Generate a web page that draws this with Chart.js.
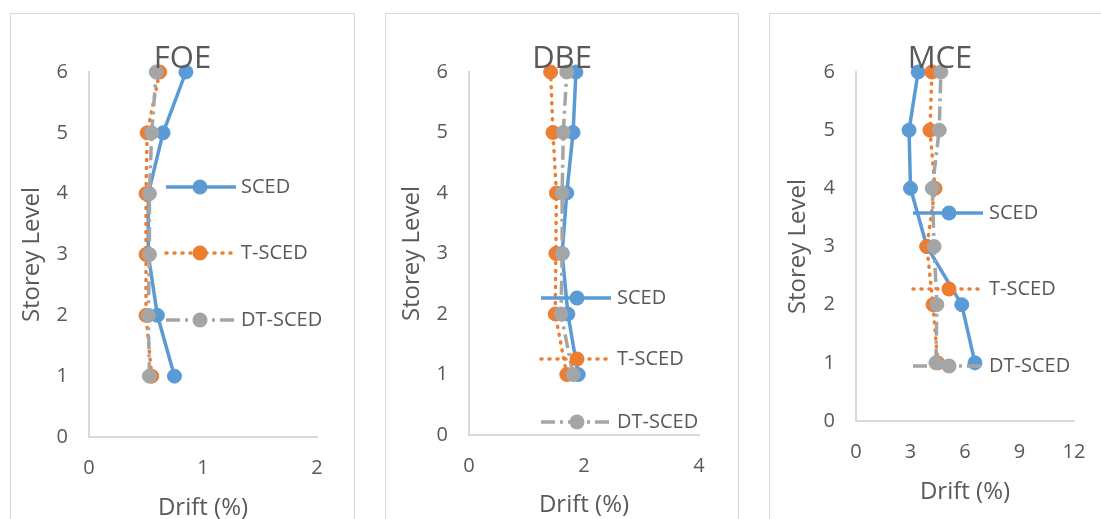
<!DOCTYPE html>
<html>
<head>
<meta charset="utf-8">
<script src="https://cdn.jsdelivr.net/npm/chart.js@4/dist/chart.umd.min.js"></script>
<style>
  html, body { margin: 0; padding: 0; background: #fff; overflow: hidden; width: 1101px; height: 519px; }
  .box { position: absolute; border: 1px solid #d9d9d9; border-bottom: none; box-sizing: border-box; height: 600px; }
  canvas { position: absolute; }
</style>
</head>
<body>
<script>
// storey drift profiles
const storeys = [1, 2, 3, 4, 5, 6];
const seriesNames = ["SCED", "T-SCED", "DT-SCED"];

const foeSced = [0.75, 0.60, 0.52, 0.52, 0.65, 0.85];
const foeTSced = [0.55, 0.50, 0.50, 0.50, 0.51, 0.62];
const foeDTSced = [0.53, 0.52, 0.53, 0.53, 0.55, 0.59];

const dbeSced = [1.90, 1.72, 1.62, 1.70, 1.81, 1.86];
const dbeTSced = [1.70, 1.50, 1.51, 1.52, 1.46, 1.42];
const dbeDTSced = [1.81, 1.60, 1.62, 1.62, 1.64, 1.70];

const mceSced = [6.55, 5.82, 3.90, 3.00, 2.92, 3.42];
const mceTSced = [4.50, 4.24, 3.90, 4.35, 4.07, 4.18];
const mceDTSced = [4.40, 4.45, 4.30, 4.20, 4.58, 4.67];

const fontFamily = "'Open Sans', sans-serif";
const textColor = "#595959";
const colors = ["#5B9BD5", "#ED7D31", "#A5A5A5"];
const dashes = [[], [1, 7], [14, 5, 3, 5]];
const caps = ["butt", "round", "butt"];

// page positions of each panel (box, plot area, titles, legend rows)
const panels = [
  {
    title: "FOE", values: [foeSced, foeTSced, foeDTSced], xMax: 2, xStep: 1,
    box: { left: 10, top: 13, width: 345 },
    plot: { left: 89, top: 72, right: 317, bottom: 437 },
    xTitleY: 508, yTitleX: 32,
    legend: { x1: 166, x2: 236, mx: 200, tx: 241, ys: [187, 253, 320] },
  },
  {
    title: "DBE", values: [dbeSced, dbeTSced, dbeDTSced], xMax: 4, xStep: 2,
    box: { left: 385, top: 13, width: 354 },
    plot: { left: 469, top: 72, right: 699, bottom: 435 },
    xTitleY: 505, yTitleX: 412,
    legend: { x1: 541, x2: 611, mx: 577, tx: 617, ys: [298, 359, 422] },
  },
  {
    title: "MCE", values: [mceSced, mceTSced, mceDTSced], xMax: 12, xStep: 3,
    box: { left: 769, top: 13, width: 342 },
    plot: { left: 856, top: 72, right: 1074, bottom: 421 },
    xTitleY: 492, yTitleX: 798,
    legend: { x1: 913, x2: 983, mx: 949, tx: 989, ys: [213, 289, 366] },
  },
];

function makeDataset(i, xs) {
  return {
    label: seriesNames[i],
    data: storeys.map((y, k) => ({ x: xs[k], y: y })),
    showLine: true,
    borderColor: colors[i],
    backgroundColor: colors[i],
    borderWidth: 3.5,
    borderDash: dashes[i],
    borderCapStyle: caps[i],
    pointRadius: 7,
    pointBorderWidth: 1,
    pointBorderColor: colors[i],
    pointBackgroundColor: colors[i],
    order: 2 - i, // later series sit on top, like excel
    clip: false,
  };
}

panels.forEach((p) => {
  const H = 540 - p.box.top;
  const rel = {
    left: p.plot.left - p.box.left,
    top: p.plot.top - p.box.top,
    right: p.plot.right - p.box.left,
    bottom: p.plot.bottom - p.box.top,
  };
  const axisTitleSize = 24;
  const lh = axisTitleSize * 1.2;
  const padBottom = H - lh / 2 - (p.xTitleY - p.box.top);
  const xHeight = H - padBottom - rel.bottom;
  const yTitlePad = (p.yTitleX - p.box.left) - lh / 2;

  const box = document.createElement("div");
  box.className = "box";
  box.style.left = p.box.left + "px";
  box.style.top = p.box.top + "px";
  box.style.width = p.box.width + "px";
  document.body.appendChild(box);

  const canvas = document.createElement("canvas");
  canvas.width = p.box.width;
  canvas.height = H;
  canvas.style.left = p.box.left + "px";
  canvas.style.top = p.box.top + "px";
  document.body.appendChild(canvas);

  // chart title and the excel style legend sitting inside the plot
  const overlay = {
    id: "overlay",
    afterDraw(chart) {
      const ctx = chart.ctx;
      ctx.save();
      ctx.fillStyle = textColor;
      ctx.font = "31px " + fontFamily;
      ctx.textAlign = "center";
      ctx.textBaseline = "alphabetic";
      ctx.fillText(p.title, p.box.width / 2, 68 - p.box.top);

      const lg = p.legend;
      lg.ys.forEach((y, i) => {
        const yy = y - p.box.top;
        ctx.strokeStyle = colors[i];
        ctx.lineWidth = 3.5;
        ctx.lineCap = caps[i];
        ctx.setLineDash(dashes[i]);
        ctx.beginPath();
        ctx.moveTo(lg.x1 - p.box.left, yy);
        ctx.lineTo(lg.x2 - p.box.left, yy);
        ctx.stroke();
        ctx.setLineDash([]);
        ctx.fillStyle = colors[i];
        ctx.beginPath();
        ctx.arc(lg.mx - p.box.left, yy, 7.5, 0, Math.PI * 2);
        ctx.fill();
        ctx.fillStyle = textColor;
        ctx.font = "20px " + fontFamily;
        ctx.textAlign = "left";
        ctx.textBaseline = "middle";
        ctx.fillText(seriesNames[i], lg.tx - p.box.left, yy);
      });
      ctx.restore();
    },
  };

  new Chart(canvas, {
    type: "scatter",
    data: { datasets: p.values.map((xs, i) => makeDataset(i, xs)) },
    options: {
      responsive: false,
      animation: false,
      layout: { padding: { left: 0, top: rel.top, right: p.box.width - rel.right, bottom: padBottom } },
      plugins: { legend: { display: false }, tooltip: { enabled: false } },
      scales: {
        x: {
          type: "linear",
          min: 0,
          max: p.xMax,
          ticks: { stepSize: p.xStep, padding: 19, color: textColor, font: { family: fontFamily, size: 20 }, maxRotation: 0, autoSkip: false },
          grid: { display: false, drawTicks: false },
          border: { display: true, color: "#d9d9d9", width: 2 },
          title: { display: true, text: "Drift (%)", color: textColor, font: { family: fontFamily, size: axisTitleSize }, padding: { top: 0, bottom: 0 } },
          afterFit(s) { s.height = xHeight; },
        },
        y: {
          type: "linear",
          min: 0,
          max: 6,
          ticks: { stepSize: 1, padding: 21, color: textColor, font: { family: fontFamily, size: 20 } },
          grid: { display: false, drawTicks: false },
          border: { display: true, color: "#d9d9d9", width: 2 },
          title: { display: true, text: "Storey Level", color: textColor, font: { family: fontFamily, size: axisTitleSize }, padding: { top: yTitlePad, bottom: 0 } },
          afterFit(s) { s.width = rel.left; },
        },
      },
    },
    plugins: [overlay],
  });
});
</script>
</body>
</html>
